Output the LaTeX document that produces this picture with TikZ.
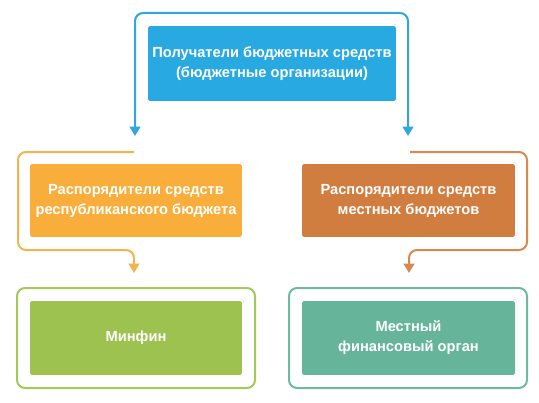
\documentclass[tikz,border=0pt]{standalone}
\usepackage{fontspec}
\setmainfont{Liberation Sans}
\usetikzlibrary{arrows.meta,shadows}
\definecolor{cblue}{HTML}{29A9E1}
\definecolor{lblue}{HTML}{2EA8DF}
\definecolor{corange}{HTML}{F9AE3C}
\definecolor{lorange}{HTML}{F2B44E}
\definecolor{cbrown}{HTML}{D17D40}
\definecolor{lbrown}{HTML}{D68A52}
\definecolor{cgreen}{HTML}{9DC24F}
\definecolor{lgreen}{HTML}{A3C95A}
\definecolor{cteal}{HTML}{66B59A}
\definecolor{lteal}{HTML}{6EBAA0}
\begin{document}
\begin{tikzpicture}[x=0.75pt,y=-0.75pt,
  box/.style={draw=white,line width=1.2pt,rounded corners=2.5pt,
    text=white,font=\bfseries\fontsize{11}{15}\selectfont,align=center,
    inner sep=0pt,
    drop shadow={shadow xshift=0.8pt,shadow yshift=0.8pt,fill=black!25,opacity=0.45}},
  frame/.style={line width=1.5pt,rounded corners=6pt},
  arr/.style={-{Triangle[width=8pt,length=7pt]}},
]
\useasboundingbox (0,0) rectangle (539,403);
% inner boxes
\node[box,fill=cblue,minimum width=187.5pt,minimum height=57.75pt] (top) at (272,63.5)
  {Получатели бюджетных средств\\(бюджетные организации)};
\node[box,fill=corange,minimum width=160.5pt,minimum height=56.25pt] (rep) at (136,200.5)
  {Распорядители средств\\республиканского бюджета};
\node[box,fill=cbrown,minimum width=161.25pt,minimum height=56.25pt] (loc) at (408.5,200.5)
  {Распорядители средств\\местных бюджетов};
\node[box,fill=cgreen,minimum width=160.5pt,minimum height=57pt] (min) at (136,338)
  {Минфин};
\node[box,fill=cteal,minimum width=161.25pt,minimum height=57pt] (mfo) at (408.5,338)
  {Местный\\финансовый орган};
% outer frames of bottom boxes
\draw[frame,draw=lgreen] (17,288) rectangle (255,388);
\draw[frame,draw=lteal] (289,288) rectangle (527,388);
% coordinates for connectors
\coordinate (tl) at (135,136);
\coordinate (tr) at (408,136);
\coordinate (ostart) at (134,152);
\coordinate (oend) at (134,273);
\coordinate (bstart) at (410,152);
\coordinate (bend) at (409,273);
% blue frame with arrows
\draw[frame,draw=lblue,arr] (272,13) -| (tl);
\draw[frame,draw=lblue,arr] (272,13) -| (tr);
% orange frame
\draw[frame,draw=lorange,arr] (ostart) -- (18,152) -- (18,250) -- (134,250) -- (oend);
% brown frame
\draw[frame,draw=lbrown,arr] (bstart) -- (527,152) -- (527,250) -- (409,250) -- (bend);
\end{tikzpicture}
\end{document}
